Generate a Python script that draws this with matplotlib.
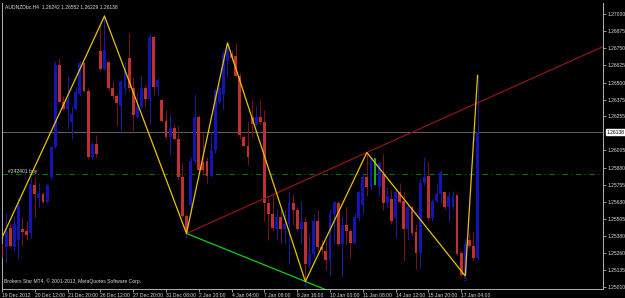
import matplotlib
matplotlib.use("Agg")
import matplotlib.pyplot as plt
import matplotlib.transforms as mtransforms

# AUDNZD H4 candles
opens = [1.2532, 1.2530, 1.2544, 1.2530, 1.2535, 1.2543, 1.2542, 1.2540, 1.2575, 1.2566,
         1.2569, 1.2563, 1.2581, 1.2603, 1.2663, 1.2636, 1.2631, 1.2621, 1.2631, 1.2642,
         1.2664, 1.2644, 1.2596, 1.2605, 1.2673, 1.2660, 1.2665, 1.2646, 1.2640, 1.2633,
         1.2646, 1.2668, 1.2646, 1.2625, 1.2632, 1.2646, 1.2638, 1.2683, 1.2647, 1.2637,
         1.2622, 1.2610, 1.2617, 1.2609, 1.2581, 1.2553, 1.2561, 1.2593, 1.2625, 1.2592,
         1.2593, 1.2582, 1.2601, 1.2636, 1.2642, 1.2666, 1.2671, 1.2669, 1.2655, 1.2610,
         1.2604, 1.2625, 1.2619, 1.2625, 1.2621, 1.2562, 1.2554, 1.2543, 1.2552, 1.2543,
         1.2547, 1.2562, 1.2557, 1.2543, 1.2548, 1.2518, 1.2525, 1.2549, 1.2530, 1.2527,
         1.2521, 1.2554, 1.2562, 1.2532, 1.2546, 1.2542, 1.2533, 1.2551, 1.2561, 1.2581,
         1.2574, 1.2577, 1.2574, 1.2583, 1.2562, 1.2565, 1.2551, 1.2570, 1.2564, 1.2543,
         1.2559, 1.2541, 1.2526, 1.2577, 1.2582, 1.2551, 1.2564, 1.2569, 1.2570, 1.2559,
         1.2559, 1.2568, 1.2526, 1.2510, 1.2535, 1.2531, 1.2522]
highs = [1.2534, 1.2555, 1.2547, 1.2553, 1.2566, 1.2552, 1.2549, 1.2581, 1.2581, 1.2577,
         1.2570, 1.2576, 1.2604, 1.2666, 1.2668, 1.2640, 1.2655, 1.2632, 1.2647, 1.2666,
         1.2665, 1.2646, 1.2607, 1.2612, 1.2693, 1.2699, 1.2666, 1.2651, 1.2642, 1.2652,
         1.2666, 1.2686, 1.2654, 1.2644, 1.2655, 1.2648, 1.2686, 1.2685, 1.2653, 1.2638,
         1.2630, 1.2627, 1.2620, 1.2618, 1.2591, 1.2554, 1.2596, 1.2642, 1.2626, 1.2613,
         1.2596, 1.2614, 1.2646, 1.2649, 1.2673, 1.2679, 1.2674, 1.2679, 1.2657, 1.2612,
         1.2622, 1.2637, 1.2633, 1.2637, 1.2630, 1.2566, 1.2569, 1.2558, 1.2557, 1.2557,
         1.2571, 1.2569, 1.2559, 1.2564, 1.2552, 1.2540, 1.2554, 1.2557, 1.2535, 1.2535,
         1.2558, 1.2564, 1.2564, 1.2553, 1.2559, 1.2543, 1.2555, 1.2571, 1.2584, 1.2599,
         1.2596, 1.2595, 1.2592, 1.2598, 1.2574, 1.2572, 1.2571, 1.2577, 1.2571, 1.2562,
         1.2560, 1.2547, 1.2580, 1.2596, 1.2592, 1.2565, 1.2576, 1.2586, 1.2571, 1.2570,
         1.2571, 1.2569, 1.2527, 1.2537, 1.2540, 1.2541, 1.26552]
lows = [1.2518, 1.2519, 1.2530, 1.2527, 1.2522, 1.2531, 1.2535, 1.2537, 1.2552, 1.2559,
        1.2562, 1.2562, 1.2580, 1.2602, 1.2635, 1.2630, 1.2616, 1.2609, 1.2630, 1.2640,
        1.2643, 1.2594, 1.2594, 1.2596, 1.2659, 1.2659, 1.2644, 1.2638, 1.2618, 1.2613,
        1.2642, 1.2644, 1.2615, 1.2624, 1.2631, 1.2632, 1.2620, 1.2641, 1.2641, 1.2621,
        1.2609, 1.2598, 1.2608, 1.2580, 1.2552, 1.2540, 1.2554, 1.2591, 1.2585, 1.2583,
        1.2577, 1.2581, 1.2599, 1.2635, 1.2631, 1.2654, 1.2666, 1.2654, 1.2609, 1.2603,
        1.2590, 1.2610, 1.2618, 1.2619, 1.2549, 1.2535, 1.2542, 1.2535, 1.2533, 1.2532,
        1.2518, 1.2547, 1.2542, 1.2532, 1.2505, 1.2515, 1.2522, 1.2527, 1.2525, 1.2513,
        1.2510, 1.2532, 1.2531, 1.2508, 1.2532, 1.2522, 1.2532, 1.2549, 1.2554, 1.2567,
        1.2572, 1.2575, 1.2567, 1.2557, 1.2559, 1.2547, 1.2537, 1.2562, 1.2520, 1.2535,
        1.2538, 1.2514, 1.2515, 1.2575, 1.2549, 1.2549, 1.2563, 1.2562, 1.2558, 1.2548,
        1.2558, 1.2524, 1.2509, 1.2509, 1.2530, 1.2521, 1.2521]
closes = [1.2522, 1.2542, 1.2531, 1.2547, 1.2560, 1.2541, 1.2539, 1.2576, 1.2569, 1.2569,
          1.2563, 1.2575, 1.2603, 1.2663, 1.2636, 1.2631, 1.2638, 1.2627, 1.2643, 1.2664,
          1.2644, 1.2596, 1.2605, 1.2598, 1.2660, 1.2674, 1.2646, 1.2640, 1.2635, 1.2651,
          1.2659, 1.2646, 1.2626, 1.2632, 1.2646, 1.2638, 1.2683, 1.2647, 1.2652, 1.2622,
          1.2610, 1.2617, 1.2609, 1.2581, 1.2553, 1.2541, 1.2593, 1.2625, 1.2586, 1.2586,
          1.2582, 1.2601, 1.2644, 1.2646, 1.2671, 1.2676, 1.2668, 1.2655, 1.2612, 1.2604,
          1.2596, 1.2620, 1.2625, 1.2621, 1.2562, 1.2554, 1.2544, 1.2552, 1.2543, 1.2547,
          1.2562, 1.2557, 1.2543, 1.2548, 1.2518, 1.2525, 1.2549, 1.2530, 1.2528, 1.2521,
          1.2554, 1.2563, 1.2532, 1.2546, 1.2542, 1.2533, 1.2552, 1.2570, 1.2581, 1.2574,
          1.2593, 1.2595, 1.2591, 1.2562, 1.2567, 1.2549, 1.2570, 1.2563, 1.2543, 1.2559,
          1.2540, 1.2526, 1.2577, 1.2581, 1.2551, 1.2564, 1.2569, 1.2585, 1.2559, 1.2567,
          1.2567, 1.2525, 1.2510, 1.2532, 1.2531, 1.2522, 1.26138]
marked_bar = 91  # the lime coloured bar

# zigzag swing points (bar index, price)
zz_bars = [-2, 25, 45, 55, 74, 89, 113, 116]
zz_prices = [1.2524, 1.26985, 1.25400, 1.26790, 1.25050, 1.25990, 1.25090, 1.26552]
zz_marks = {45: "1", 74: "3", 113: "5"}

bid = 1.26138
order_price = 1.25830
order_label = "#242401 buy"

ytick_vals = [1.27000, 1.26875, 1.26750, 1.26625, 1.26500, 1.26375, 1.26255, 1.26005,
              1.25880, 1.25755, 1.25630, 1.25505, 1.25380, 1.25260, 1.25135, 1.25010]
xtick_labels = ["19 Dec 2012", "20 Dec 12:00", "21 Dec 20:00", "26 Dec 12:00", "27 Dec 20:00",
                "31 Dec 08:00", "2 Jan 20:00", "4 Jan 04:00", "7 Jan 08:00", "8 Jan 16:00",
                "10 Jan 00:00", "11 Jan 08:00", "14 Jan 12:00", "15 Jan 20:00", "17 Jan 04:00"]

FONT = "Liberation Sans"
FS = 3.6
TXT = "#d8d8d8"
AXC = "#b0b0b0"

fig = plt.figure(figsize=(6.25, 2.98), dpi=100, facecolor="black")
ax = fig.add_axes([2 / 625, 9 / 298, 601 / 625, 286 / 298])
ax.set_facecolor("black")

# candles
for i, (o, h, l, c) in enumerate(zip(opens, highs, lows, closes)):
    if i == marked_bar:
        ax.vlines(i, l, h, color="#22cc22", lw=1.2, zorder=3)
        continue
    up = c >= o
    body = "#1414b4" if up else "#c03030"
    wick = "#1a1aa8" if up else "#7a1414"
    ax.vlines(i, l, h, color=wick, lw=0.7, zorder=2)
    ax.bar(i, max(abs(c - o), 0.00003), bottom=min(o, c), width=0.7,
           color=body, edgecolor="none", zorder=3)

# horizontal lines
ax.axhline(bid, color="#5c6468", lw=0.7, zorder=1)
ax.axhline(order_price, color="#0a700a", lw=0.8, ls=(0, (5, 3, 1, 3)), zorder=1)
ax.text(1.5, order_price + 0.00004, order_label, color=TXT, fontsize=FS, family=FONT,
        va="bottom", ha="left", zorder=5)

xmax = 146.6

# trend lines from the first swing low
x0, y0 = zz_bars[2], zz_prices[2]
for (x1, y1), col in [((zz_bars[5], zz_prices[5]), "#8e1616"),
                      ((zz_bars[4], zz_prices[4]), "#10d010")]:
    slope = (y1 - y0) / (x1 - x0)
    ax.plot([x0, xmax], [y0, y0 + slope * (xmax - x0)], color=col, lw=0.9, zorder=4)

# zigzag
ax.plot(zz_bars, zz_prices, color="#e8c400", lw=0.9, zorder=6)
for b, s in zz_marks.items():
    ax.text(b, lows[b] - 0.00004, s, color="#2a3ad8", fontsize=FS, family=FONT,
            ha="center", va="top", zorder=6)

ax.set_xlim(0.07, xmax)
ax.set_ylim(1.24995, 1.27080)

# axes styling
ax.spines["top"].set_visible(False)
for side in ["left", "right", "bottom"]:
    ax.spines[side].set_color(AXC)
    ax.spines[side].set_linewidth(0.7)

ax.yaxis.tick_right()
ax.set_yticks(ytick_vals)
ax.set_yticklabels([f"{v:.5f}" for v in ytick_vals])
ax.set_xticks(range(0, 8 * len(xtick_labels), 8))
ax.set_xticklabels(xtick_labels, ha="left")
ax.tick_params(axis="both", colors=AXC, labelcolor=TXT, labelsize=FS, length=2, width=0.6, pad=1.2)
for lab in ax.get_xticklabels() + ax.get_yticklabels():
    lab.set_family(FONT)

# current price box on the price scale
trans = mtransforms.blended_transform_factory(ax.transAxes, ax.transData)
ax.text(1.006, bid, f"{bid:.5f}", transform=trans, color="black", fontsize=FS, family=FONT,
        ha="left", va="center", clip_on=False,
        bbox=dict(facecolor="white", edgecolor="white", pad=0.5))

# header and footer text
fig.text(5 / 625, 1 - 7 / 298, "AUDNZDbc,H4  1.26242 1.26552 1.26229 1.26138",
         color=TXT, fontsize=FS, family=FONT, va="center", ha="left")
fig.text(4 / 625, 1 - 281 / 298, "Brokers Star MT4, \u00a9 2001-2013, MetaQuotes Software Corp.",
         color=TXT, fontsize=FS, family=FONT, va="center", ha="left")

fig.savefig("out.png", dpi=100, facecolor="black")
